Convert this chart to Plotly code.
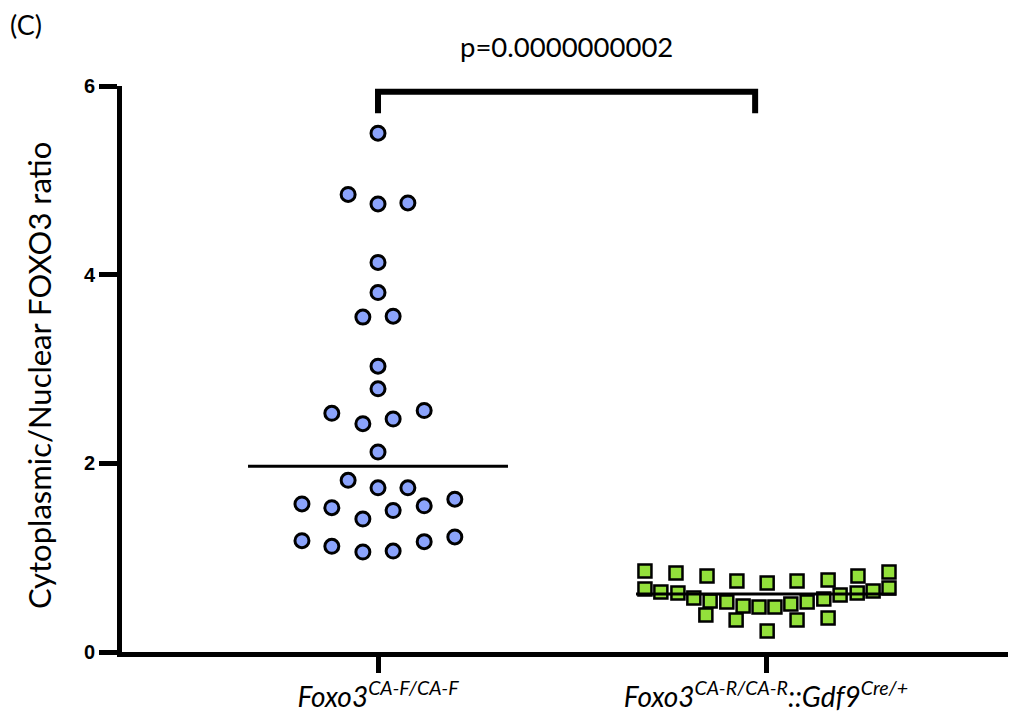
import numpy as np
import plotly.graph_objects as go

# ---------------- data ----------------
categories = ["<i>Foxo3<sup>CA-F/CA-F</sup></i>",
              "<i>Foxo3<sup>CA-R/CA-R</sup>::Gdf9<sup>Cre/+</sup></i>"]
cat_pos = [1, 2]

# group 1 (circles): ratio values and horizontal jitter (data units)
g1_values = [5.50, 4.85, 4.75, 4.76, 4.13, 3.81, 3.55, 3.56, 3.03, 2.79,
             2.53, 2.42, 2.47, 2.56, 2.12, 1.82, 1.74, 1.74, 1.57, 1.53,
             1.41, 1.50, 1.55, 1.62, 1.18, 1.12, 1.06, 1.07, 1.17, 1.22]
g1_jitter = [0.000, -0.077, 0.000, 0.077, 0.000, 0.000, -0.039, 0.039, 0.000, 0.000,
             -0.119, -0.039, 0.039, 0.119, 0.000, -0.077, 0.000, 0.077, -0.196, -0.119,
             -0.039, 0.039, 0.119, 0.198, -0.196, -0.119, -0.039, 0.039, 0.119, 0.198]

# group 2 (squares)
g2_values = [0.858, 0.837, 0.805, 0.752, 0.731, 0.752, 0.763, 0.805, 0.847,
             0.667, 0.636, 0.625, 0.572, 0.540, 0.530, 0.487, 0.477, 0.477, 0.508,
             0.530, 0.561, 0.604, 0.625, 0.646, 0.678,
             0.392, 0.339, 0.339, 0.360, 0.222]
g2_jitter = [-0.312, -0.232, -0.152, -0.075, 0.003, 0.080, 0.160, 0.237, 0.317,
             -0.312, -0.271, -0.227, -0.186, -0.144, -0.101, -0.059, -0.018, 0.023, 0.064,
             0.106, 0.149, 0.191, 0.235, 0.276, 0.317,
             -0.155, -0.077, 0.080, 0.160, 0.003]

y_ticks = [0, 2, 4, 6]
p_label = "p=0.0000000002"
y_title = "Cytoplasmic/Nuclear FOXO3 ratio"
panel_label = "(C)"

# annotation geometry (data units)
median_half_width = 0.335
bracket_x = [1.0, 1.972]
bracket_y_low, bracket_y_high = 5.71, 5.94

# ---------------- figure ----------------
fig = go.Figure()

fig.add_trace(go.Scatter(
    x=[cat_pos[0] + j for j in g1_jitter], y=g1_values, mode="markers",
    marker=dict(symbol="circle", size=14, color="#8BA3FB",
                line=dict(color="black", width=3)),
    showlegend=False, hoverinfo="y"))

fig.add_trace(go.Scatter(
    x=[cat_pos[1] + j for j in g2_jitter], y=g2_values, mode="markers",
    marker=dict(symbol="square", size=13, color="#93E03B",
                line=dict(color="black", width=2.5)),
    showlegend=False, hoverinfo="y"))

# median lines
for pos, vals in zip(cat_pos, [g1_values, g2_values]):
    m = float(np.median(vals))
    fig.add_trace(go.Scatter(
        x=[pos - median_half_width, pos + median_half_width], y=[m, m],
        mode="lines", line=dict(color="black", width=3),
        showlegend=False, hoverinfo="skip"))

# bracket
fig.add_shape(type="path",
              path=f"M {bracket_x[0]},{bracket_y_low} L {bracket_x[0]},{bracket_y_high} "
                   f"L {bracket_x[1]},{bracket_y_high} L {bracket_x[1]},{bracket_y_low}",
              xref="x", yref="y", line=dict(color="black", width=6))

fig.add_annotation(x=(bracket_x[0] + bracket_x[1]) / 2, xref="x",
                   y=1.0697, yref="paper", text=p_label, showarrow=False,
                   xanchor="center", yanchor="middle",
                   font=dict(family="Lato", size=27.5, color="black"))

fig.add_annotation(x=-0.093, xref="paper", y=0.489, yref="paper",
                   text=y_title, textangle=-90, showarrow=False,
                   xanchor="center", yanchor="middle",
                   font=dict(family="Lato", size=31, color="black"))

fig.add_annotation(x=-0.1275, xref="paper", y=1.1086, yref="paper",
                   text=panel_label, showarrow=False,
                   xanchor="left", yanchor="middle",
                   font=dict(family="Lato", size=27, color="black"))

# the page body adds an 8 px offset, so the figure is sized to end at the window edge
fig.update_layout(
    width=1008, height=710,
    margin=dict(l=114, r=0, t=78, b=66),
    paper_bgcolor="white", plot_bgcolor="white",
    xaxis=dict(range=[0.3402, 2.6443], tickvals=cat_pos, ticktext=categories,
               showgrid=False, zeroline=False, showline=True,
               linecolor="black", linewidth=5,
               ticks="outside", ticklen=16, tickwidth=5, tickcolor="black",
               tickfont=dict(family="Lato", size=28, color="black")),
    yaxis=dict(range=[0, 6], tickvals=y_ticks,
               showgrid=False, zeroline=False, showline=True,
               linecolor="black", linewidth=5,
               ticks="outside", ticklen=18, tickwidth=5, tickcolor="black",
               tickfont=dict(family="Liberation Sans", size=20, color="black",
                             weight="bold")),
)

fig.write_html("out.html")
